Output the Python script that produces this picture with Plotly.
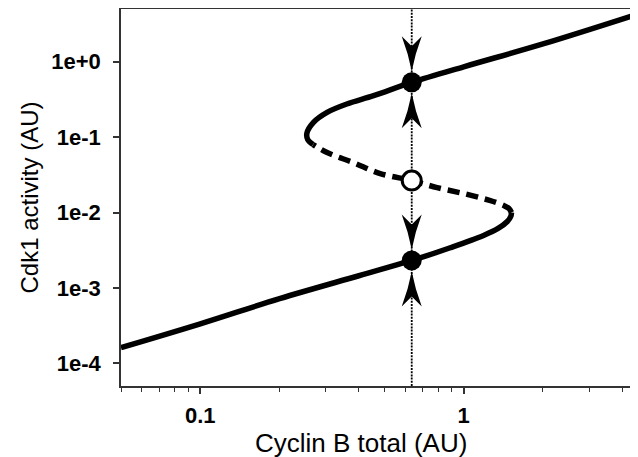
import math
import plotly.graph_objects as go

# ---- data (Cyclin B total vs Cdk1 activity, AU) ----
lower_cyclin = [0.05, 0.1, 0.2, 0.4, 0.635, 0.889, 1.19, 1.351, 1.464, 1.509, 1.519]
lower_cdk1 = [1.61e-4, 3.33e-4, 7.2e-4, 1.45e-3, 2.31e-3, 3.41e-3, 4.96e-3, 6.14e-3, 7.60e-3, 8.85e-3, 1.00e-2]

unstable_cyclin = [1.519, 1.486, 1.420, 1.294, 1.186, 0.996, 0.793, 0.635, 0.482, 0.381, 0.303, 0.268]
unstable_cdk1 = [1.00e-2, 1.13e-2, 1.238e-2, 1.40e-2, 1.53e-2, 1.79e-2, 2.14e-2, 2.65e-2, 3.29e-2, 4.59e-2, 6.23e-2, 7.96e-2]

upper_cyclin = [0.268, 0.256, 0.254, 0.269, 0.303, 0.360, 0.455, 0.635, 1.0, 2.0, 4.6]
upper_cdk1 = [7.96e-2, 0.092, 0.113, 0.157, 0.213, 0.275, 0.355, 0.532, 0.856, 1.72, 4.3]

fp_cyclin = 0.635
fp_stable_cdk1 = [0.00231, 0.532]
fp_unstable_cdk1 = [0.0265]

x_range = [0.05, 4.59]
y_range = [5e-5, 5]

x_tickvals = [0.1, 1]
x_ticktext = ["0.1", "1"]
y_tickvals = [1e-4, 1e-3, 1e-2, 1e-1, 1]
y_ticktext = ["1e-4", "1e-3", "1e-2", "1e-1", "1e+0"]

x_title = "Cyclin B total (AU)"
y_title = "Cdk1 activity (AU)"

FONT = "Liberation Sans, Arial, sans-serif"

fig = go.Figure()

# dotted vertical line through the fixed points
fig.add_trace(go.Scatter(x=[fp_cyclin, fp_cyclin], y=y_range, mode="lines",
                         line=dict(color="black", width=1.8, dash="2px,1.2px"),
                         hoverinfo="skip"))

line_style = dict(color="black", width=5.5, shape="spline", smoothing=1.0)
fig.add_trace(go.Scatter(x=lower_cyclin, y=lower_cdk1, mode="lines",
                         line=line_style, hoverinfo="skip"))
fig.add_trace(go.Scatter(x=unstable_cyclin, y=unstable_cdk1, mode="lines",
                         line=dict(line_style, dash="12px,7px"), hoverinfo="skip"))
fig.add_trace(go.Scatter(x=upper_cyclin, y=upper_cdk1, mode="lines",
                         line=line_style, hoverinfo="skip"))

fig.add_trace(go.Scatter(x=[fp_cyclin] * len(fp_stable_cdk1), y=fp_stable_cdk1, mode="markers",
                         marker=dict(size=20, color="black", line=dict(width=0)),
                         hoverinfo="skip"))
fig.add_trace(go.Scatter(x=[fp_cyclin] * len(fp_unstable_cdk1), y=fp_unstable_cdk1, mode="markers",
                         marker=dict(size=19, color="white", line=dict(width=3, color="black")),
                         hoverinfo="skip"))

# arrowheads pointing toward the stable fixed points (pixel geometry)
def arrow_path(direction):
    # direction = -1: arrow above point pointing down; +1: below point pointing up
    s = -direction
    tip, back, notch, hw = 11, 46, 36, 10
    return (f"M 0 {s*tip} Q {-hw*0.35} {s*(tip+18)} {-hw} {s*back} "
            f"L 0 {s*notch} L {hw} {s*back} Q {hw*0.35} {s*(tip+18)} 0 {s*tip} Z")

for yv in fp_stable_cdk1:
    for d in (-1, 1):
        fig.add_shape(type="path", xref="x", yref="y",
                      xsizemode="pixel", ysizemode="pixel",
                      xanchor=fp_cyclin, yanchor=yv,
                      path=arrow_path(d), fillcolor="black",
                      line=dict(width=0), layer="above")

axis_common = dict(
    type="log", showgrid=False, zeroline=False,
    showline=True, linecolor="#333333", linewidth=1.5,
    ticks="outside", tickcolor="#333333", tickwidth=1.5, ticklen=6,
    tickfont=dict(family=FONT, size=22, color="black", weight="bold"),
)

fig.update_xaxes(
    axis_common,
    range=[math.log10(v) for v in x_range],
    tickvals=x_tickvals, ticktext=x_ticktext,
    ticklabelstandoff=3,
    minor=dict(ticks="outside", ticklen=4, tickcolor="#333333", tickwidth=1.2, dtick="D1", showgrid=False),
    mirror=True,
)
fig.update_yaxes(
    axis_common,
    range=[math.log10(v) for v in y_range],
    tickvals=y_tickvals, ticktext=y_ticktext,
    ticklabelstandoff=8,
    title=dict(text=y_title, font=dict(family=FONT, size=24, color="black"), standoff=6),
)

# x-axis title (placed slightly left of the plot centre, as in the reference)
fig.add_annotation(text=x_title, xref="paper", yref="paper", x=0.4642, y=0,
                   xanchor="center", yanchor="middle", yshift=-57, showarrow=False,
                   font=dict(family=FONT, size=26, color="black"))

fig.update_layout(
    width=630, height=449,
    margin=dict(l=113, r=0, t=1, b=71, autoexpand=False),
    paper_bgcolor="white", plot_bgcolor="white",
    showlegend=False,
)

fig.write_html("out.html")
